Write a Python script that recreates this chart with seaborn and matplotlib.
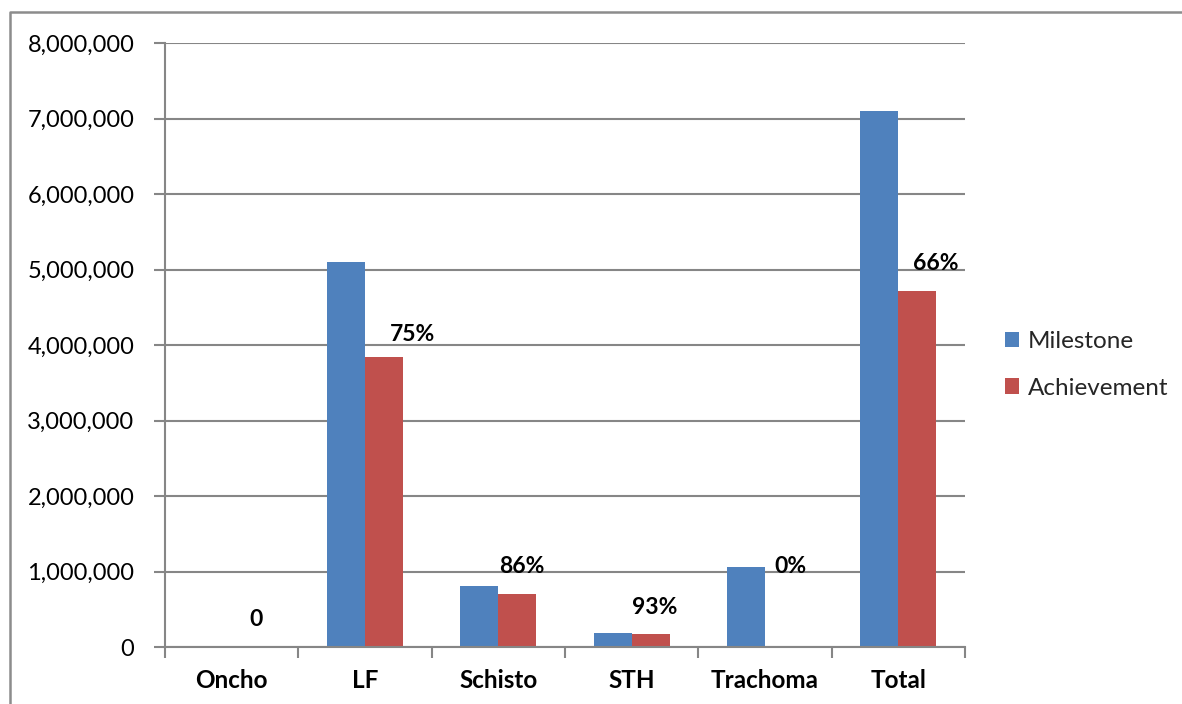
import matplotlib
matplotlib.use("Agg")
import matplotlib.pyplot as plt
from matplotlib.lines import Line2D
from matplotlib.ticker import FuncFormatter, FixedLocator
import seaborn as sns
import pandas as pd

# Treatment targets vs. people reached, per disease programme
categories = ["Oncho", "LF", "Schisto", "STH", "Trachoma", "Total"]
milestone = [0, 5_100_000, 810_000, 185_000, 1_060_000, 7_100_000]
achievement = [0, 3_840_000, 700_000, 172_000, 0, 4_720_000]
series_names = ["Milestone", "Achievement"]
y_ticks = list(range(0, 8_000_001, 1_000_000))

df = pd.DataFrame({
    "category": categories * 2,
    "series": [series_names[0]] * len(categories) + [series_names[1]] * len(categories),
    "value": milestone + achievement,
})

sns.set_theme(style="white")
plt.rcParams["font.family"] = ["Lato", "DejaVu Sans"]

GRID = "#868686"
fig = plt.figure(figsize=(11.82, 7.04), dpi=100)
ax = fig.add_axes([165 / 1182, 57 / 704, 800 / 1182, 604 / 704])

sns.barplot(
    data=df, x="category", y="value", hue="series", order=categories,
    hue_order=series_names, palette=["#4F81BD", "#C0504D"],
    width=0.57, gap=0, linewidth=0, saturation=1, ax=ax, legend=True,
)

ax.set_xlim(-0.5, len(categories) - 0.5)
ax.set_ylim(0, 8_000_000)
ax.set_yticks(y_ticks)
ax.yaxis.set_major_formatter(FuncFormatter(lambda v, _: f"{int(v):,}"))
ax.grid(axis="y", color=GRID, linewidth=1.5)
ax.set_axisbelow(True)
ax.set_xlabel("")
ax.set_ylabel("")

for side in ("top", "right"):
    ax.spines[side].set_visible(False)
for side in ("left", "bottom"):
    ax.spines[side].set_color(GRID)
    ax.spines[side].set_linewidth(1.5)

ax.tick_params(axis="y", length=8, width=1.5, color=GRID, pad=14,
               labelsize=17, labelcolor="black", left=True)
ax.tick_params(axis="x", which="major", length=0, pad=16, labelsize=17.5)
ax.xaxis.set_minor_locator(FixedLocator([i - 0.5 for i in range(len(categories) + 1)]))
ax.tick_params(axis="x", which="minor", length=8, width=1.5, color=GRID, bottom=True)
for lbl in ax.get_xticklabels():
    lbl.set_fontweight("bold")
    lbl.set_color("black")

# Achievement rate labels above each group
label_dx = [0.18, 0.36, 0.175, 0.17, 0.19, 0.28]
label_dy = [360_000, 300_000, 370_000, 350_000, 1_060_000, 360_000]
for i, (m, a) in enumerate(zip(milestone, achievement)):
    text = "0" if m == 0 else f"{round(a / m * 100)}%"
    ax.text(i + label_dx[i], a + label_dy[i], text, ha="center", va="center",
            fontsize=16.5, fontweight="bold", color="black")

leg = ax.legend(loc="center left", bbox_to_anchor=(1.0225, 0.467), frameon=False,
                fontsize=17.5, handlelength=0.6, handleheight=0.6,
                handletextpad=0.35, labelspacing=1.05)

# Chart frame
fig.add_artist(Line2D([10 / 1182, 10 / 1182, 1.0], [0.0, 1 - 12 / 704, 1 - 12 / 704],
                      transform=fig.transFigure, color="#8c8c8c", linewidth=1.8))

fig.savefig("out.png", dpi=100)
